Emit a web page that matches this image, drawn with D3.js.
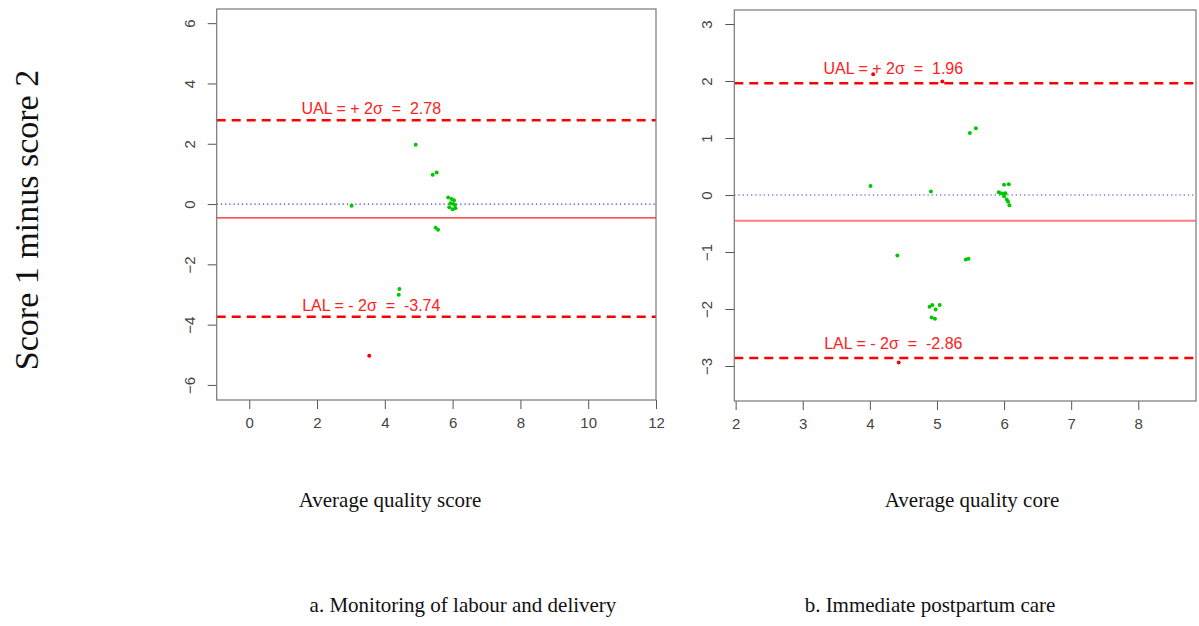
<!DOCTYPE html>
<html lang="en">
<head>
<meta charset="UTF-8">
<title>Bland-Altman plots</title>
<script src="https://d3js.org/d3.v7.min.js"></script>
<style>
  body { margin: 0; background: #fff; }
  .serif { font-family: "Liberation Serif", "Times New Roman", serif; fill: #111; }
  .limit-label { font-family: "Liberation Sans", Arial, sans-serif; font-size: 16px; fill: #ff2020; white-space: pre; }
</style>
</head>
<body>
<svg id="chart" width="1199" height="626"></svg>
<script>
// panel a: monitoring of labour and delivery
const aAvg  = [4.91, 5.41, 5.53, 3.02, 5.87, 5.97, 6.04, 5.94, 6.02, 6.07, 5.90, 6.00, 6.08, 5.50, 5.57, 4.43, 4.41, 3.54];
const aDiff = [1.97, 0.97, 1.05, -0.06, 0.22, 0.17, 0.13, 0.03, 0.00, -0.03, -0.11, -0.17, -0.14, -0.79, -0.85, -2.82, -3.01, -5.03];
const aLimits = { ual: 2.78, lal: -3.74, mean: -0.46 };
const aXTicks = [0, 2, 4, 6, 8, 10, 12];
const aYTicks = [-6, -4, -2, 0, 2, 4, 6];

// panel b: immediate postpartum care
const bAvg  = [4.05, 5.08, 5.49, 5.58, 4.01, 4.91, 6.00, 6.07, 5.92, 5.95, 5.99, 6.02, 6.00, 6.04, 6.06, 6.08, 4.41, 5.43, 5.47, 4.89, 4.93, 4.98, 5.04, 4.92, 4.97, 4.43];
const bDiff = [2.12, 1.99, 1.09, 1.17, 0.16, 0.06, 0.18, 0.19, 0.05, 0.03, 0.02, 0.03, -0.02, -0.08, -0.12, -0.18, -1.06, -1.13, -1.12, -1.96, -1.93, -2.01, -1.93, -2.15, -2.17, -2.94];
const bLimits = { ual: 1.96, lal: -2.86, mean: -0.45 };
const bXTicks = [2, 3, 4, 5, 6, 7, 8];
const bYTicks = [-3, -2, -1, 0, 1, 2, 3];

const svg = d3.select("#chart");
svg.append("rect").attr("width", 1199).attr("height", 626).attr("fill", "#fff");

function panel(opt) {
  const x = d3.scaleLinear().domain(opt.xDomain).range([opt.left, opt.right]);
  const y = d3.scaleLinear().domain(opt.yDomain).range([opt.bottom, opt.top]);
  const g = svg.append("g");

  // axes
  const xa = g.append("g")
    .attr("transform", `translate(0,${opt.bottom})`)
    .call(d3.axisBottom(x).tickValues(opt.xTicks).tickSize(9).tickPadding(8).tickFormat(d3.format("d")));
  xa.select(".domain").remove();
  xa.selectAll(".tick line").attr("stroke", "#555");

  const ya = g.append("g")
    .attr("transform", `translate(${opt.left},0)`)
    .call(d3.axisLeft(y).tickValues(opt.yTicks).tickSize(9).tickFormat(d3.format("d")));
  ya.select(".domain").remove();
  ya.selectAll(".tick line").attr("stroke", "#555");
  ya.selectAll(".tick text")
    .attr("x", 0).attr("y", -22).attr("dy", null)
    .attr("text-anchor", "middle")
    .attr("transform", "rotate(-90)");

  g.selectAll(".tick text")
    .style("font-family", "'Liberation Sans', Arial, sans-serif")
    .style("font-size", "15px")
    .style("fill", "#444");

  // reference lines
  const line = (v, color, width, dash) => g.append("line")
    .attr("x1", opt.left).attr("x2", opt.right)
    .attr("y1", y(v)).attr("y2", y(v))
    .attr("stroke", color).attr("stroke-width", width)
    .attr("stroke-dasharray", dash);

  line(0, "#2b2bff", 1.2, "1.2,3");
  line(opt.limits.mean, opt.meanColor, opt.meanWidth, null);
  line(opt.limits.ual, "#ff0000", 2.4, "9,6");
  line(opt.limits.lal, "#ff0000", 2.4, "9,6");

  g.append("text").attr("class", "limit-label")
    .attr("x", x(opt.labelX)).attr("y", y(opt.limits.ual) - opt.labelOff)
    .attr("text-anchor", "middle")
    .text(`UAL = + 2σ  =  ${opt.limits.ual.toFixed(2)}`);
  g.append("text").attr("class", "limit-label")
    .attr("x", x(opt.labelX)).attr("y", y(opt.limits.lal) - opt.labelOff)
    .attr("text-anchor", "middle")
    .text(`LAL = - 2σ  =  ${opt.limits.lal.toFixed(2)}`);

  // points
  g.selectAll("circle.pt")
    .data(opt.avg.map((a, i) => [a, opt.diff[i]]))
    .join("circle")
      .attr("class", "pt")
      .attr("cx", d => x(d[0]))
      .attr("cy", d => y(d[1]))
      .attr("r", 2)
      .attr("fill", d => (d[1] > opt.limits.ual || d[1] < opt.limits.lal) ? "#ff0000" : "#00c800");

  // frame
  g.append("rect")
    .attr("x", opt.left).attr("y", opt.top)
    .attr("width", opt.right - opt.left).attr("height", opt.bottom - opt.top)
    .attr("fill", "none").attr("stroke", "#777").attr("stroke-width", 1.2);

  // titles
  svg.append("text").attr("class", "serif")
    .attr("x", opt.titleX).attr("y", 507)
    .attr("text-anchor", "middle").attr("font-size", 21)
    .text(opt.xTitle);
  svg.append("text").attr("class", "serif")
    .attr("x", opt.captionX).attr("y", 612)
    .attr("text-anchor", "middle").attr("font-size", 21)
    .text(opt.caption);
}

panel({
  left: 216.7, right: 656, top: 9, bottom: 400,
  xDomain: [-0.96, 12], yDomain: [-6.5, 6.47],
  xTicks: aXTicks, yTicks: aYTicks,
  avg: aAvg, diff: aDiff, limits: aLimits,
  meanColor: "#ff1a1a", meanWidth: 1.3,
  labelX: 3.6, labelOff: 6,
  xTitle: "Average quality score", titleX: 390,
  caption: "a. Monitoring of labour and delivery", captionX: 463
});

panel({
  left: 734.3, right: 1196, top: 10, bottom: 401,
  xDomain: [1.98, 8.86], yDomain: [-3.614, 3.246],
  xTicks: bXTicks, yTicks: bYTicks,
  avg: bAvg, diff: bDiff, limits: bLimits,
  meanColor: "#ff7f7f", meanWidth: 2,
  labelX: 4.35, labelOff: 9,
  xTitle: "Average quality core", titleX: 972,
  caption: "b. Immediate postpartum care", captionX: 930
});

// shared y title
svg.append("text").attr("class", "serif")
  .attr("transform", "translate(38,220) rotate(-90)")
  .attr("text-anchor", "middle").attr("font-size", 34)
  .text("Score 1 minus score 2");
</script>
</body>
</html>
